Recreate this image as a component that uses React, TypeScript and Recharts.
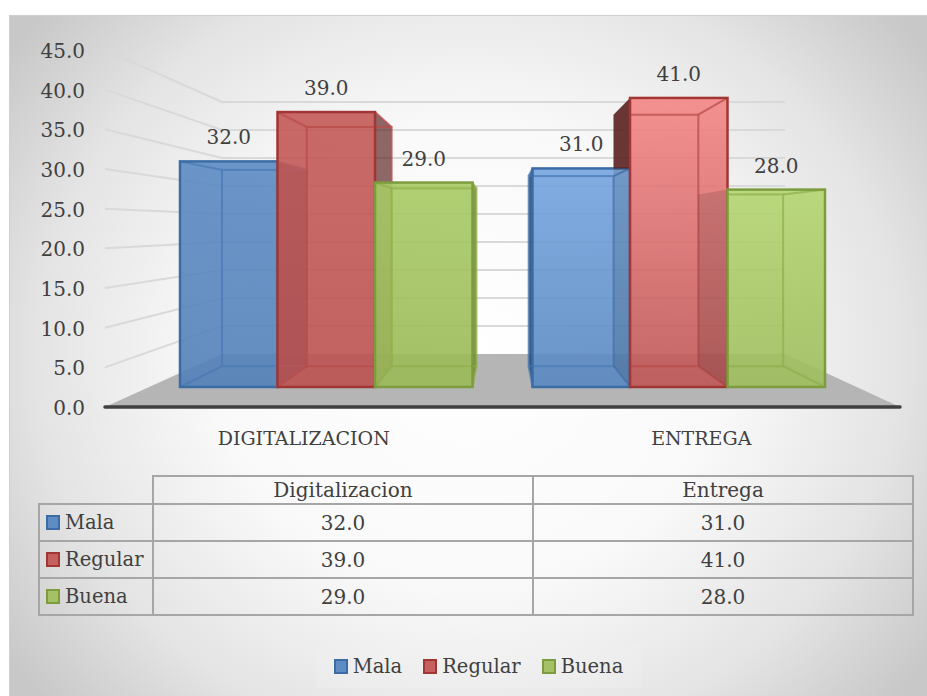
import React from 'react';
import { Bar, BarChart, Customized, LabelList, Legend, XAxis, YAxis } from 'recharts';

const categories = ['DIGITALIZACION', 'ENTREGA'];
const tableHeads = ['Digitalizacion', 'Entrega'];
const seriesNames = ['Mala', 'Regular', 'Buena'];
const mala = [32, 31];
const regular = [39, 41];
const buena = [29, 28];
const yTicks = [0, 5, 10, 15, 20, 25, 30, 35, 40, 45];

const seriesValues = [mala, regular, buena];
const chartData = categories.map((name, i) => ({
  name,
  Mala: mala[i],
  Regular: regular[i],
  Buena: buena[i],
}));

const FONT = '"DejaVu Serif", serif';
const TEXT = '#404040';

const swatch = ['#5f8cc3', '#c4605e', '#a5c166'];
const edge = ['#3b6ca6', '#a23634', '#7d9c3e'];
const inner = ['#4a7ab5', '#b84c4a', '#8fb04c'];
const darkSide = ['#1f4570', '#5a2020', '#6c8a35'];
// top and bottom of the front face, per category
const faceTop = [
  ['#5c8bc3', '#75a5e0'],
  ['#c45a58', '#f48686'],
  ['#a8ca64', '#b4d570'],
];
const faceBottom = [
  ['#5380b9', '#5988c1'],
  ['#bb5251', '#bd5655'],
  ['#9ab957', '#9ebd5c'],
];

// perspective of the floor and the walls
const VP = { x: 503, y: 227 };
const DEPTH = 0.13;
const WALL_LEFT = 222;
const WALL_RIGHT = 785;
const FLOOR_BACK = 354;
const WALL_STEP = 5.6;
const PLOT = { left: 105, right: 900, top: 50, bottom: 407 };
const AXIS_STEP = (PLOT.bottom - PLOT.top) / 45;

const toBack = (x: number, y: number) => [x + (VP.x - x) * DEPTH, y + (VP.y - y) * DEPTH];
const pts = (list: number[][]) => list.map((p) => p.join(',')).join(' ');

const Room = () => (
  <g>
    <polygon
      points={pts([
        [PLOT.left, PLOT.bottom],
        [WALL_LEFT, FLOOR_BACK],
        [WALL_RIGHT, FLOOR_BACK],
        [PLOT.right, PLOT.bottom],
      ])}
      fill="#b5b5b5"
    />
    {yTicks.slice(1).map((t) => {
      const wy = FLOOR_BACK - t * WALL_STEP;
      return (
        <polyline
          key={t}
          points={pts([
            [PLOT.left, PLOT.bottom - t * AXIS_STEP],
            [WALL_LEFT, wy],
            [WALL_RIGHT, wy],
          ])}
          fill="none"
          stroke="#d9d9d9"
          strokeWidth={2}
        />
      );
    })}
    <line
      x1={PLOT.left}
      x2={PLOT.right}
      y1={PLOT.bottom}
      y2={PLOT.bottom}
      stroke="#404040"
      strokeWidth={3.5}
      strokeLinecap="round"
    />
  </g>
);

const Box = (props: any) => {
  const { x, y, width, height, index, s } = props;
  const x2 = x + width;
  const y2 = y + height;
  const [bx1, by1] = toBack(x, y);
  const [bx2] = toBack(x2, y);
  const [, by2] = toBack(x, y2);
  const mid = x + width / 2;
  const sideX = mid < VP.x ? x2 : x;
  const [backSideX, backSideTop] = toBack(sideX, y);
  const [, backSideBottom] = toBack(sideX, y2);
  const farX = mid < VP.x ? x : x2;
  const [backFarX, backFarTop] = toBack(farX, y);
  const [, backFarBottom] = toBack(farX, y2);
  const sidePts = pts([
    [sideX, y],
    [backSideX, backSideTop],
    [backSideX, backSideBottom],
    [sideX, y2],
  ]);
  const gid = `face-${s}-${index}`;
  const clipTop = `clip-top-${s}-${index}`;
  const clipLow = `clip-low-${s}-${index}`;
  const clipOwn = `clip-own-${s}-${index}`;

  // in the second group the dark side is seen through the previous bar
  const unit = height / seriesValues[s][index];
  const overlapped = index === 1 && s > 0;
  const neighbourTop = overlapped ? y2 - seriesValues[s - 1][index] * unit : 0;

  return (
    <g>
      <defs>
        <linearGradient id={gid} x1="0" y1="0" x2="0" y2="1">
          <stop offset="0" stopColor={faceTop[s][index]} />
          <stop offset="1" stopColor={faceBottom[s][index]} />
        </linearGradient>
        <clipPath id={clipTop}>
          <rect x={0} y={0} width={927} height={neighbourTop} />
        </clipPath>
        <clipPath id={clipLow}>
          <rect x={0} y={neighbourTop} width={927} height={696} />
        </clipPath>
        <clipPath id={clipOwn}>
          <rect x={x} y={0} width={927} height={696} />
        </clipPath>
      </defs>
      <rect x={x} y={y} width={width} height={height} fill={`url(#${gid})`} fillOpacity={0.9} />
      {overlapped ? (
        <>
          <polygon points={sidePts} fill={darkSide[s]} fillOpacity={0.9} clipPath={`url(#${clipTop})`} />
          <polygon points={sidePts} fill="#000" fillOpacity={0.12} clipPath={`url(#${clipLow})`} />
        </>
      ) : (
        <polygon points={sidePts} fill={darkSide[s]} fillOpacity={s === 1 ? 0.68 : 0.85} />
      )}
      <g
        fill="none"
        stroke={inner[s]}
        strokeOpacity={0.75}
        strokeWidth={2}
        clipPath={overlapped ? `url(#${clipOwn})` : undefined}
      >
        <rect x={bx1} y={by1} width={bx2 - bx1} height={by2 - by1} />
        <line x1={farX} y1={y} x2={backFarX} y2={backFarTop} />
        <line x1={farX} y1={y2} x2={backFarX} y2={backFarBottom} />
        <line x1={sideX} y1={y} x2={backSideX} y2={backSideTop} />
        <line x1={sideX} y1={y2} x2={backSideX} y2={backSideBottom} />
      </g>
      <rect x={x} y={y} width={width} height={height} fill="none" stroke={edge[s]} strokeWidth={2.5} />
    </g>
  );
};

const Key = ({ s }: { s: number }) => (
  <span
    style={{
      display: 'inline-block',
      width: 10,
      height: 11,
      background: swatch[s],
      border: `2px solid ${edge[s]}`,
      marginRight: 5,
    }}
  />
);

const ChartLegend = () => (
  <div
    style={{
      display: 'flex',
      justifyContent: 'center',
      alignItems: 'center',
      gap: 21,
      width: 325,
      height: 43,
      background: 'rgba(255,255,255,0.1)',
      fontFamily: FONT,
      fontSize: 19.5,
      color: TEXT,
    }}
  >
    {seriesNames.map((n, s) => (
      <span key={n} style={{ display: 'flex', alignItems: 'center' }}>
        <Key s={s} />
        {n}
      </span>
    ))}
  </div>
);

const cell: React.CSSProperties = {
  border: '2px solid #a6a6a6',
  textAlign: 'center',
  padding: 0,
};

const DataTable = () => (
  <table
    style={{
      position: 'absolute',
      left: 38,
      top: 475,
      width: 874,
      height: 141,
      borderCollapse: 'collapse',
      tableLayout: 'fixed',
      fontFamily: FONT,
      fontSize: 20,
      color: TEXT,
    }}
  >
    <colgroup>
      <col style={{ width: 114 }} />
      <col style={{ width: 380 }} />
      <col style={{ width: 380 }} />
    </colgroup>
    <tbody>
      <tr style={{ height: 28 }}>
        <td style={{ ...cell, borderTop: 'none', borderLeft: 'none' }} />
        {tableHeads.map((h) => (
          <td key={h} style={cell}>
            {h}
          </td>
        ))}
      </tr>
      {seriesNames.map((n, s) => (
        <tr key={n} style={{ height: 37 }}>
          <td style={{ ...cell, textAlign: 'left', paddingLeft: 6, whiteSpace: 'nowrap' }}>
            <span style={{ display: 'flex', alignItems: 'center', fontSize: 19.5 }}>
              <Key s={s} />
              {n}
            </span>
          </td>
          {seriesValues[s].map((v, i) => (
            <td key={i} style={cell}>
              {v.toFixed(1)}
            </td>
          ))}
        </tr>
      ))}
    </tbody>
  </table>
);

export default function App() {
  return (
    <div style={{ position: 'absolute', left: 0, top: 0, width: 927, height: 696, overflow: 'hidden', background: '#fff' }}>
      <div
        style={{
          position: 'absolute',
          left: 9,
          top: 15,
          width: 918,
          height: 681,
          boxSizing: 'border-box',
          borderTop: '1px solid #cfcfcf',
          borderLeft: '1px solid #cfcfcf',
          background:
            'radial-gradient(ellipse 62% 76% at 50% 50%, #ffffff 0%, #f9f9f9 45%, #e4e4e4 76%, #c8c8c8 100%)',
        }}
      />
      <div style={{ position: 'absolute', left: 0, top: 0 }}>
        <BarChart
          width={927}
          height={696}
          data={chartData}
          barSize={97.5}
          barGap={0}
          margin={{ top: PLOT.top, right: 27, bottom: 206, left: 0 }}
        >
          <Customized component={Room} />
          <XAxis
            dataKey="name"
            xAxisId="labels"
            axisLine={false}
            tickLine={false}
            tickSize={0}
            tickMargin={25}
            height={40}
            interval={0}
            tick={{ fontFamily: FONT, fontSize: 19, fill: TEXT }}
          />
          <XAxis dataKey="name" xAxisId="front" hide height={0} padding={{ left: 45, right: 45 }} />
          <YAxis
            yAxisId="labels"
            width={105}
            domain={[0, 45]}
            ticks={yTicks}
            interval={0}
            axisLine={false}
            tickLine={false}
            tickSize={0}
            tickMargin={20}
            tickFormatter={(v: number) => v.toFixed(1)}
            tick={{ fontFamily: FONT, fontSize: 20, fill: TEXT, dy: 1 }}
          />
          <YAxis yAxisId="front" hide width={0} domain={[-2.837, 47.8]} allowDataOverflow />
          <Bar
            dataKey={() => 0}
            xAxisId="labels"
            yAxisId="labels"
            fill="none"
            legendType="none"
            isAnimationActive={false}
          />
          {seriesNames.map((n, s) => (
            <Bar
              key={n}
              dataKey={n}
              name={n}
              xAxisId="front"
              yAxisId="front"
              fill={swatch[s]}
              isAnimationActive={false}
              shape={(p: any) => <Box {...p} s={s} />}
            >
              <LabelList
                dataKey={n}
                position="top"
                offset={17}
                formatter={(v: number) => v.toFixed(1)}
                style={{ fontFamily: FONT, fontSize: 20, fill: TEXT }}
              />
            </Bar>
          ))}
          <Legend
            content={<ChartLegend />}
            wrapperStyle={{ left: 316, top: 645, bottom: 'auto', width: 325 }}
          />
        </BarChart>
      </div>
      <DataTable />
    </div>
  );
}
